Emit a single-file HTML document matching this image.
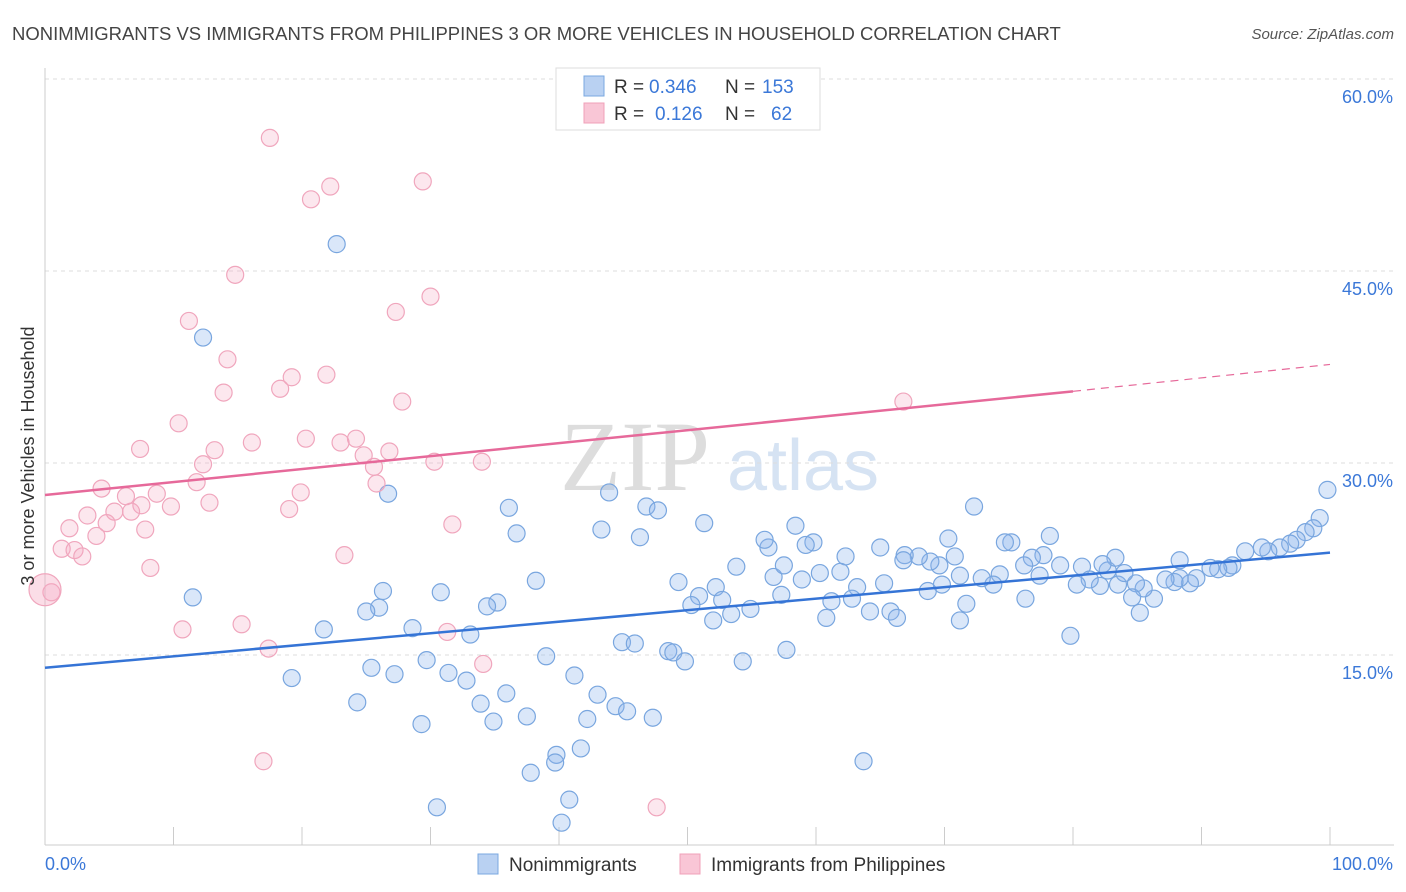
<!DOCTYPE html>
<html><head><meta charset="utf-8">
<style>
body{margin:0;background:#fff;font-family:"Liberation Sans",sans-serif;}
svg{display:block}
</style></head>
<body>
<svg id="chart" width="1406" height="892" xmlns="http://www.w3.org/2000/svg">
<text x="12" y="40" font-size="18.5" fill="#444">NONIMMIGRANTS VS IMMIGRANTS FROM PHILIPPINES 3 OR MORE VEHICLES IN HOUSEHOLD CORRELATION CHART</text>
<text x="1394" y="39" font-size="15" fill="#555" font-style="italic" text-anchor="end">Source: ZipAtlas.com</text>
<text x="635" y="490" font-size="100" fill="#ddd" font-family="Liberation Serif" text-anchor="middle">ZIP</text>
<text x="803" y="490" font-size="72" fill="#d6e3f3" text-anchor="middle">atlas</text>
<g id="grid"></g>
<g id="axes"></g>
<g id="marks"></g>
<g id="lines"></g>
<text transform="translate(34,456) rotate(-90)" font-size="18" fill="#333" text-anchor="middle">3 or more Vehicles in Household</text>
<g>
<rect x="556" y="68" width="264" height="62" fill="#fff" stroke="#ddd"/>
<rect x="584" y="76" width="20" height="20" fill="#b9d1f2" stroke="#7aa8e0"/>
<rect x="584" y="103" width="20" height="20" fill="#f9c6d6" stroke="#f0a0b8"/>
<text x="614" y="93" font-size="19" fill="#333">R =</text>
<text x="649" y="93" font-size="19" fill="#3b78d8">0.346</text>
<text x="725" y="93" font-size="19" fill="#333">N =</text>
<text x="762" y="93" font-size="19" fill="#3b78d8">153</text>
<text x="614" y="120" font-size="19" fill="#333">R =</text>
<text x="655" y="120" font-size="19" fill="#3b78d8">0.126</text>
<text x="725" y="120" font-size="19" fill="#333">N =</text>
<text x="771" y="120" font-size="19" fill="#3b78d8">62</text>
</g>
<g>
<rect x="478" y="854" width="20" height="20" fill="#b9d1f2" stroke="#7aa8e0"/>
<text x="509" y="871" font-size="19" fill="#333">Nonimmigrants</text>
<rect x="680" y="854" width="20" height="20" fill="#f9c6d6" stroke="#f0a0b8"/>
<text x="711" y="871" font-size="19" fill="#333">Immigrants from Philippines</text>
</g>
</svg>
<script>
const yTicks=[15,30,45,60];
const yTickLabels=["15.0%","30.0%","45.0%","60.0%"];
const xTickCount=10;
const blueX=[22.7,12.3,26.7,43.9,36.1,46.8,47.7,36.7,43.3,46.3,51.3,58.4,72.3,99.8,99.2,98.7,98.1,97.4,96.9,96.1,95.2,94.7,93.4,92.4,92.1,91.3,90.7,89.6,89.1,88.3,87.9,87.2,86.3,85.5,84.9,83.5,84.6,88.3,85.2,82.7,82.1,83.3,84.0,82.3,80.7,81.3,80.3,79.0,78.2,77.7,76.8,77.4,76.2,75.2,74.7,74.3,76.3,79.8,73.8,72.9,71.2,70.8,70.3,69.6,68.9,68.0,66.9,66.8,69.8,68.7,71.7,71.2,65.0,65.3,63.2,62.3,61.9,60.3,59.8,59.2,58.9,62.8,61.2,60.8,65.8,66.3,64.2,56.7,57.3,57.5,56.3,56.0,53.8,52.2,50.9,50.3,52.7,52.0,53.4,54.9,49.3,57.7,54.3,48.5,48.9,49.8,44.9,45.9,63.7,38.2,35.2,34.4,30.8,26.3,26.0,25.0,28.6,33.1,39.0,29.7,25.4,27.2,31.4,32.8,41.2,35.9,43.0,33.9,24.3,21.7,19.2,11.5,44.4,45.3,47.3,42.2,37.5,34.9,29.3,39.8,39.7,41.7,37.8,40.8,30.5,40.2];
const blueY=[47.1,39.8,27.6,27.7,26.5,26.6,26.3,24.5,24.8,24.2,25.3,25.1,26.6,27.9,25.7,24.9,24.6,24.0,23.7,23.4,23.1,23.4,23.1,22.0,21.8,21.7,21.8,21.0,20.6,21.0,20.7,20.9,19.4,20.2,20.6,20.5,19.5,22.4,18.3,21.6,20.4,22.6,21.4,22.1,21.9,20.9,20.5,22.0,24.3,22.8,22.6,21.2,22.0,23.8,23.8,21.3,19.4,16.5,20.5,21.0,21.2,22.7,24.1,22.0,22.3,22.7,22.8,22.4,20.5,20.0,19.0,17.7,23.4,20.6,20.3,22.7,21.5,21.4,23.8,23.6,20.9,19.4,19.2,17.9,18.4,17.9,18.4,21.1,19.7,22.0,23.4,24.0,21.9,20.3,19.6,18.9,19.3,17.7,18.2,18.6,20.7,15.4,14.5,15.3,15.2,14.5,16.0,15.9,6.7,20.8,19.1,18.8,19.9,20.0,18.7,18.4,17.1,16.6,14.9,14.6,14.0,13.5,13.6,13.0,13.4,12.0,11.9,11.2,11.3,17.0,13.2,19.5,11.0,10.6,10.1,10.0,10.2,9.8,9.6,7.2,6.6,7.7,5.8,3.7,3.1,1.9];
const pinkX=[17.5,22.2,20.7,29.4,14.8,30.0,27.3,11.2,14.2,19.2,21.9,18.3,13.9,27.8,10.4,7.4,13.2,16.1,20.3,24.2,23.0,24.8,26.8,12.3,25.6,30.3,34.0,4.4,6.3,8.7,11.8,12.8,19.9,25.8,7.5,3.3,5.4,6.7,9.8,4.8,1.9,4.0,7.8,1.3,2.3,2.9,19.0,31.7,23.3,8.2,0.5,10.7,15.3,17.4,31.3,34.1,17.0,47.6,66.8];
const pinkY=[55.4,51.6,50.6,52.0,44.7,43.0,41.8,41.1,38.1,36.7,36.9,35.8,35.5,34.8,33.1,31.1,31.0,31.6,31.9,31.9,31.6,30.6,30.9,29.9,29.7,30.1,30.1,28.0,27.4,27.6,28.5,26.9,27.7,28.4,26.7,25.9,26.2,26.2,26.6,25.3,24.9,24.3,24.8,23.3,23.2,22.7,26.4,25.2,22.8,21.8,19.9,17.0,17.4,15.5,16.8,14.3,6.7,3.1,34.8];
const blueTrend=[[0,14.0],[100,23.0]];
const pinkTrend=[[0,27.5],[80,35.6],[100,37.7]];
const pinkBig=[0,20.1];

const X0=45,X1=1330,Y0=847,PXY=12.8;
const sx=v=>X0+(X1-X0)*v/100;
const sy=v=>Y0-v*PXY;
const NS="http://www.w3.org/2000/svg";
function mk(tag,attrs,parent){const e=document.createElementNS(NS,tag);for(const k in attrs)e.setAttribute(k,attrs[k]);document.getElementById(parent).appendChild(e);return e;}

yTicks.forEach((t,i)=>{
 const g=mk('line',{x1:45,x2:1394,y1:sy(t),y2:sy(t),stroke:'#ddd','stroke-dasharray':'4,4'},'grid');
 
 
 const l=mk('text',{x:1393,y:sy(t)+24,'font-size':18,fill:'#3b78d8','text-anchor':'end'},'grid');
 l.textContent=yTickLabels[i];
 
 
});
const topg=mk('line',{x1:45,x2:1394,y1:79,y2:79,stroke:'#ddd','stroke-dasharray':'4,4'},'grid');


const ya=mk('line',{x1:45,x2:45,y1:68,y2:845,stroke:'#ccc'},'axes');


const xa=mk('line',{x1:45,x2:1394,y1:845,y2:845,stroke:'#ccc'},'axes');


for(let i=0;i<=xTickCount;i++){
 const t=mk('line',{x1:sx(i*10),x2:sx(i*10),y1:827,y2:845,stroke:'#ccc'},'axes');
 
 
}
const xl0=mk('text',{x:45,y:870,'font-size':18,fill:'#3b78d8'},'axes');xl0.textContent='0.0%';


const xl1=mk('text',{x:1393,y:870,'font-size':18,fill:'#3b78d8','text-anchor':'end'},'axes');xl1.textContent='100.0%';



blueX.forEach((v,i)=>{
 const c=mk('circle',{cx:sx(v),cy:sy(blueY[i]),r:8.5,fill:'rgba(140,180,235,0.32)',stroke:'#79a6df','stroke-width':1.2},'marks');
 
 
});
pinkX.forEach((v,i)=>{
 const c=mk('circle',{cx:sx(v),cy:sy(pinkY[i]),r:8.5,fill:'rgba(245,170,195,0.28)',stroke:'#f0a6bd','stroke-width':1.2},'marks');
 
 
});
const big=mk('circle',{cx:sx(pinkBig[0]),cy:sy(pinkBig[1]),r:16,fill:'rgba(245,170,195,0.4)',stroke:'#f0a6bd','stroke-width':1.2},'marks');



const bl=mk('line',{x1:sx(blueTrend[0][0]),y1:sy(blueTrend[0][1]),x2:sx(blueTrend[1][0]),y2:sy(blueTrend[1][1]),stroke:'#3574d6','stroke-width':2.5},'lines');


const pl=mk('line',{x1:sx(pinkTrend[0][0]),y1:sy(pinkTrend[0][1]),x2:sx(pinkTrend[1][0]),y2:sy(pinkTrend[1][1]),stroke:'#e6699a','stroke-width':2.5},'lines');


const pd=mk('line',{x1:sx(pinkTrend[1][0]),y1:sy(pinkTrend[1][1]),x2:sx(pinkTrend[2][0]),y2:sy(pinkTrend[2][1]),stroke:'#e6699a','stroke-width':1.2,'stroke-dasharray':'8,6'},'lines');


</script>
</body></html>
